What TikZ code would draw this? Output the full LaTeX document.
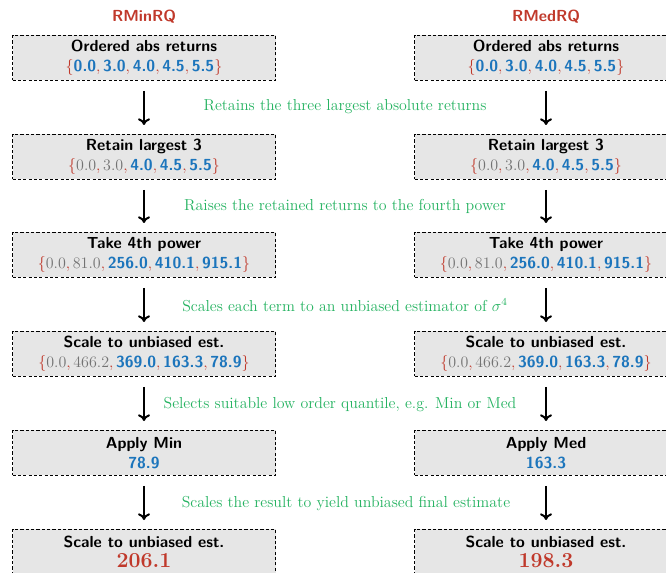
\documentclass[tikz,border=0pt]{standalone}
\usetikzlibrary{arrows.meta}
\definecolor{cred}{RGB}{192,57,43}
\definecolor{cblue}{RGB}{28,117,188}
\definecolor{cgreen}{RGB}{36,178,96}
\definecolor{cgray}{RGB}{115,115,115}
\definecolor{boxfill}{RGB}{230,230,230}
\newcommand\BV[1]{\textcolor{cblue}{\textsf{\bfseries #1}}}
\newcommand\GV[1]{\textcolor{cgray}{$#1$}}
\newcommand\Lbrc{\textcolor{cred}{$\{$}}
\newcommand\Rbrc{\textcolor{cred}{$\}$}}
\newcommand\Vsep{\textcolor{cred}{$,$}\,}
\newcommand\Hd[1]{\textsf{\bfseries #1}}
\newcommand\Fin[1]{{\fontsize{16}{17}\selectfont\rmfamily\bfseries\color{cred}#1}}
\begin{document}
\begin{tikzpicture}[x=0.75pt,y=-0.75pt,
  stepbox/.style={draw, line width=0.6pt, dash pattern=on 2.4pt off 1.6pt, fill=boxfill,
    minimum width=197.25pt, minimum height=33.75pt, anchor=north, align=center,
    inner sep=2pt, font=\fontsize{12}{15}\selectfont},
  ttl/.style={font=\fontsize{12}{14}\selectfont\sffamily\bfseries, text=cred},
  flow/.style={line width=1.5pt, -{Computer Modern Rightarrow[length=5pt,width=9pt]},
    shorten <=7.5pt, shorten >=6.75pt},
  note/.style={text=cgreen, font=\fontsize{11.9}{13}\selectfont}]
\clip (0,0) rectangle (666,573);
\useasboundingbox (0,0) rectangle (666,573);
% titles
\node[ttl] (tL) at (144,17) {RMinRQ};
\node[ttl] (tR) at (546,17) {RMedRQ};
% left column
\node[stepbox] (L1) at (144,35) {\Hd{Ordered abs returns}\\ \Lbrc\BV{0.0}\Vsep\BV{3.0}\Vsep\BV{4.0}\Vsep\BV{4.5}\Vsep\BV{5.5}\Rbrc};
\node[stepbox] (L2) at (144,134) {\Hd{Retain largest 3}\\ \Lbrc\GV{0.0}\Vsep\GV{3.0}\Vsep\BV{4.0}\Vsep\BV{4.5}\Vsep\BV{5.5}\Rbrc};
\node[stepbox] (L3) at (144,232) {\Hd{Take 4th power}\\ \Lbrc\GV{0.0}\Vsep\GV{81.0}\Vsep\BV{256.0}\Vsep\BV{410.1}\Vsep\BV{915.1}\Rbrc};
\node[stepbox] (L4) at (144,331) {\Hd{Scale to unbiased est.}\\ \Lbrc\GV{0.0}\Vsep\GV{466.2}\Vsep\BV{369.0}\Vsep\BV{163.3}\Vsep\BV{78.9}\Rbrc};
\node[stepbox] (L5) at (144,430) {\Hd{Apply Min}\\ \BV{78.9}};
\node[stepbox] (L6) at (144,529) {\Hd{Scale to unbiased est.}\\ \Fin{206.1}};
% right column
\node[stepbox] (R1) at (546,35) {\Hd{Ordered abs returns}\\ \Lbrc\BV{0.0}\Vsep\BV{3.0}\Vsep\BV{4.0}\Vsep\BV{4.5}\Vsep\BV{5.5}\Rbrc};
\node[stepbox] (R2) at (546,134) {\Hd{Retain largest 3}\\ \Lbrc\GV{0.0}\Vsep\GV{3.0}\Vsep\BV{4.0}\Vsep\BV{4.5}\Vsep\BV{5.5}\Rbrc};
\node[stepbox] (R3) at (546,232) {\Hd{Take 4th power}\\ \Lbrc\GV{0.0}\Vsep\GV{81.0}\Vsep\BV{256.0}\Vsep\BV{410.1}\Vsep\BV{915.1}\Rbrc};
\node[stepbox] (R4) at (546,331) {\Hd{Scale to unbiased est.}\\ \Lbrc\GV{0.0}\Vsep\GV{466.2}\Vsep\BV{369.0}\Vsep\BV{163.3}\Vsep\BV{78.9}\Rbrc};
\node[stepbox] (R5) at (546,430) {\Hd{Apply Med}\\ \BV{163.3}};
\node[stepbox] (R6) at (546,529) {\Hd{Scale to unbiased est.}\\ \Fin{198.3}};
% arrows
\foreach \a/\b in {1/2,2/3,3/4,4/5,5/6}{
  \draw[flow] (L\a) -- (L\b);
  \draw[flow] (R\a) -- (R\b);
}
% notes
\node[note] (n1) at (345,106.5) {Retains the three largest absolute returns};
\node[note] (n2) at (345,206.5) {Raises the retained returns to the fourth power};
\node[note] (n3) at (345,305) {Scales each term to an unbiased estimator of $\sigma^4$};
\node[note] (n4) at (340,404.5) {Selects suitable low order quantile, e.g. Min or Med};
\node[note] (n5) at (346,503.5) {Scales the result to yield unbiased final estimate};
\end{tikzpicture}
\end{document}
